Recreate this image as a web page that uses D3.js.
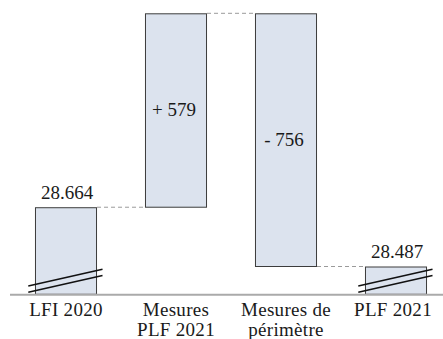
<!DOCTYPE html>
<html>
<head>
<meta charset="utf-8">
<script src="https://cdn.jsdelivr.net/npm/d3@7"></script>
<style>
  html, body { margin: 0; padding: 0; background: #fff; }
  svg { display: block; }
  text { font-family: "Liberation Serif", "Times New Roman", serif; fill: #1a1a1a; }
</style>
</head>
<body>
<svg id="chart" width="443" height="339"></svg>
<script>
// Pont budgétaire LFI 2020 -> PLF 2021 (M€)
const categories = ["LFI 2020", "Mesures PLF 2021", "Mesures de périmètre", "PLF 2021"];
const labelLines = [["LFI 2020"], ["Mesures", "PLF 2021"], ["Mesures de", "périmètre"], ["PLF 2021"]];
const kinds = ["total", "delta", "delta", "total"];
const values = [28664, 579, -756, 28487];
// value at which the truncated vertical axis starts
const axisFloor = 28404;

const W = 443, H = 339;
const svg = d3.select("#chart");

// running totals for the waterfall
let run = 0;
const bars = categories.map((c, i) => {
  let y0, y1;
  if (kinds[i] === "total") { y0 = axisFloor; y1 = values[i]; run = values[i]; }
  else { y0 = run; y1 = run + values[i]; run = y1; }
  return { cat: c, kind: kinds[i], value: values[i], lo: Math.min(y0, y1), hi: Math.max(y0, y1), end: y1 };
});

const x = d3.scaleBand()
  .domain(categories)
  .range([11, 451])
  .paddingInner(0.436)
  .paddingOuter(0.218);

const y = d3.scaleLinear()
  .domain([axisFloor, d3.max(bars, d => d.hi)])
  .range([294.3, 13.3]);

const fr = d3.formatLocale({ decimal: ",", thousands: ".", grouping: [3], currency: ["", " €"] });
const fmtTotal = fr.format(",d");
const fmtDelta = v => (v >= 0 ? "+ " : "- ") + fr.format("d")(Math.abs(v));

// dashed connectors between consecutive bars
const conn = svg.append("g");
for (let i = 0; i < bars.length - 1; i++) {
  const level = bars[i].end;
  conn.append("line")
    .attr("x1", x(categories[i]) + x.bandwidth())
    .attr("x2", x(categories[i + 1]))
    .attr("y1", y(level)).attr("y2", y(level))
    .attr("stroke", "#9a9a9a")
    .attr("stroke-width", 1)
    .attr("stroke-dasharray", "4,3");
}

// bars
svg.append("g").selectAll("rect")
  .data(bars)
  .join("rect")
  .attr("x", d => x(d.cat) + 0.5)
  .attr("y", d => y(d.hi) + 0.5)
  .attr("width", x.bandwidth() - 1)
  .attr("height", d => y(d.lo) - y(d.hi) - 0.5)
  .attr("fill", "#dce3ee")
  .attr("stroke", "#3c3c3c")
  .attr("stroke-width", 1);

// axis baseline
svg.append("line")
  .attr("x1", 10).attr("x2", W)
  .attr("y1", y(axisFloor) + 0.5).attr("y2", y(axisFloor) + 0.5)
  .attr("stroke", "#aaaaaa")
  .attr("stroke-width", 2);

// axis-break marks on the total bars
const brk = svg.append("g");
bars.filter(d => d.kind === "total").forEach(d => {
  const bx = x(d.cat);
  const xl = bx - 6.7, xr = bx + x.bandwidth() + 5.5;
  const base = y(axisFloor);
  [[-8.3, -25], [-2, -18.7]].forEach(([yl, yr]) => {
    brk.append("line")
      .attr("x1", xl).attr("y1", base + yl)
      .attr("x2", xr).attr("y2", base + yr)
      .attr("stroke", "#111")
      .attr("stroke-width", 1.5);
  });
});

// value labels
const lab = svg.append("g").style("font-size", "19px");
bars.forEach(d => {
  const cx = x(d.cat) + x.bandwidth() / 2;
  if (d.kind === "total") {
    lab.append("text")
      .attr("x", cx + 1).attr("y", y(d.hi) - 8.5)
      .attr("text-anchor", "middle")
      .text(fmtTotal(d.value));
  } else {
    lab.append("text")
      .attr("x", cx - 2).attr("y", (y(d.hi) + y(d.lo)) / 2 + 6)
      .attr("text-anchor", "middle")
      .text(fmtDelta(d.value));
  }
});

// category labels
const labelShift = [0, 0, 0, -3];
const cl = svg.append("g").style("font-size", "19px").style("letter-spacing", "0.3px");
categories.forEach((c, i) => {
  const cx = x(c) + x.bandwidth() / 2 + labelShift[i];
  const t = cl.append("text")
    .attr("x", cx)
    .attr("y", 316)
    .attr("text-anchor", "middle");
  labelLines[i].forEach((ln, j) => {
    t.append("tspan")
      .attr("x", cx)
      .attr("dy", j === 0 ? 0 : 20)
      .text(ln);
  });
});
</script>
</body>
</html>
